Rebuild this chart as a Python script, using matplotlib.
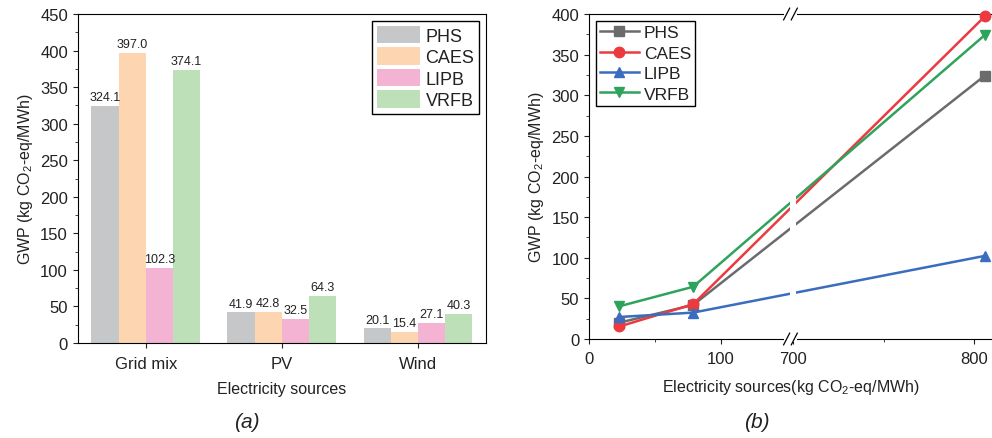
import numpy as np
import matplotlib
matplotlib.use('Agg')
import matplotlib.pyplot as plt
from matplotlib.ticker import MultipleLocator, FixedLocator
from matplotlib.patches import Rectangle

plt.rcParams['font.family'] = ['Liberation Sans', 'DejaVu Sans']
plt.rcParams['mathtext.fontset'] = 'custom'
plt.rcParams['mathtext.rm'] = 'Liberation Sans'
plt.rcParams['mathtext.it'] = 'Liberation Sans:italic'
plt.rcParams['text.color'] = '#222222'
plt.rcParams['axes.labelcolor'] = '#222222'
plt.rcParams['xtick.color'] = '#222222'
plt.rcParams['ytick.color'] = '#222222'

# data
sources = ['Grid mix', 'PV', 'Wind']
techs = ['PHS', 'CAES', 'LIPB', 'VRFB']
phs = [324.1, 41.9, 20.1]
caes = [397.0, 42.8, 15.4]
lipb = [102.3, 32.5, 27.1]
vrfb = [374.1, 64.3, 40.3]
# carbon intensity of each source (panel b x values), order: wind, PV, grid
src_ci = [23, 79, 806]

bar_colors = ['#c6c7c9', '#fdd5b0', '#f5b3d4', '#bde0b9']
line_colors = ['#6b6b6d', '#ec3a3f', '#3a6cc0', '#2ea35c']
markers = ['s', 'o', '^', 'v']

fig = plt.figure(figsize=(9.92, 4.39), dpi=100)

# ---- (a) grouped bars ----
ax1 = fig.add_axes([0.0783, 0.2164, 0.4117, 0.7494])
x = np.arange(len(sources))
w = 0.2
for i, (vals, c, lab) in enumerate(zip([phs, caes, lipb, vrfb], bar_colors, techs)):
    bars = ax1.bar(x + (i - 1.5) * w, vals, w, color=c, label=lab)
    ax1.bar_label(bars, fmt='%.1f', padding=2, fontsize=9, color='#222222')
ax1.set_xlim(-0.5, 2.5)
ax1.set_ylim(0, 450)
ax1.set_xticks(x)
ax1.set_xticklabels(sources)
ax1.yaxis.set_major_locator(MultipleLocator(50))
ax1.yaxis.set_minor_locator(MultipleLocator(25))
ax1.tick_params(labelsize=12)
ax1.tick_params(axis='x', pad=6)
ax1.tick_params(axis='y', which='minor', length=2.5)
ax1.set_xlabel('Electricity sources', fontsize=11.5, labelpad=7)
ax1.set_ylabel('GWP (kg CO$_2$-eq/MWh)', fontsize=11.5)
leg = ax1.legend(loc='upper right', fontsize=13, handlelength=2.4, handleheight=1.1,
                 fancybox=False, edgecolor='black', framealpha=1,
                 borderaxespad=0.4, labelspacing=0.15, handletextpad=0.3, borderpad=0.25)
leg.get_frame().set_linewidth(1.0)
fig.text(0.249, 0.025, '(a)', fontsize=15, style='italic', ha='center')

# ---- (b) lines with broken x axis ----
B = 155.0
r = 1.371

def fwd(v):
    v = np.asarray(v, dtype=float)
    return np.where(v <= B, v, np.where(v < 700, B, B + (v - 700) * r))

def inv(v):
    v = np.asarray(v, dtype=float)
    return np.where(v <= B, v, 700 + (v - B) / r)

ax2 = fig.add_axes([0.5938, 0.2255, 0.4062, 0.7403])
ax2.set_xscale('function', functions=(fwd, inv))
series = [phs, caes, lipb, vrfb]
for vals, c, m, lab in zip(series, line_colors, markers, techs):
    ax2.plot(src_ci, vals[::-1], color=c, marker=m, markersize=7.5, linewidth=1.8,
             label=lab, clip_on=False, zorder=3)
ax2.set_xlim(0, 810)
ax2.set_ylim(0, 400)
ax2.xaxis.set_major_locator(FixedLocator([0, 100, 700, 800]))
ax2.xaxis.set_minor_locator(FixedLocator([50, 750]))
ax2.yaxis.set_major_locator(MultipleLocator(50))
ax2.yaxis.set_minor_locator(MultipleLocator(25))
ax2.tick_params(labelsize=12)
ax2.tick_params(axis='x', pad=5)
ax2.tick_params(which='minor', length=2.5)
ax2.spines['right'].set_visible(False)
ax2.set_xlabel('Electricity sources(kg CO$_2$-eq/MWh)', fontsize=11.5, labelpad=8)
ax2.set_ylabel('GWP (kg CO$_2$-eq/MWh)', fontsize=11.5)

# break gap in the lines and spines
ax2.axvspan(152.5, 701.6, color='white', zorder=3.5, lw=0)
frac = float(fwd(B) / fwd(810)) - 0.007
for yy in (0, 1):
    ax2.add_patch(Rectangle((frac - 0.016, yy - 0.01), 0.032, 0.02, transform=ax2.transAxes,
                            color='white', zorder=4, clip_on=False, lw=0))
    for dx in (-0.0095, 0.0095):
        ax2.plot([frac + dx - 0.0075, frac + dx + 0.0075], [yy - 0.018, yy + 0.018],
                 transform=ax2.transAxes, color='black', lw=0.9, clip_on=False, zorder=5)

leg2 = ax2.legend(loc='upper left', fontsize=12.5, handlelength=2.2,
                  fancybox=False, edgecolor='black', framealpha=1,
                  borderaxespad=0.4, labelspacing=0.3, handletextpad=0.3, borderpad=0.25)
leg2.get_frame().set_linewidth(1.0)
fig.text(0.763, 0.025, '(b)', fontsize=15, style='italic', ha='center')

fig.savefig('out.png', dpi=100)
